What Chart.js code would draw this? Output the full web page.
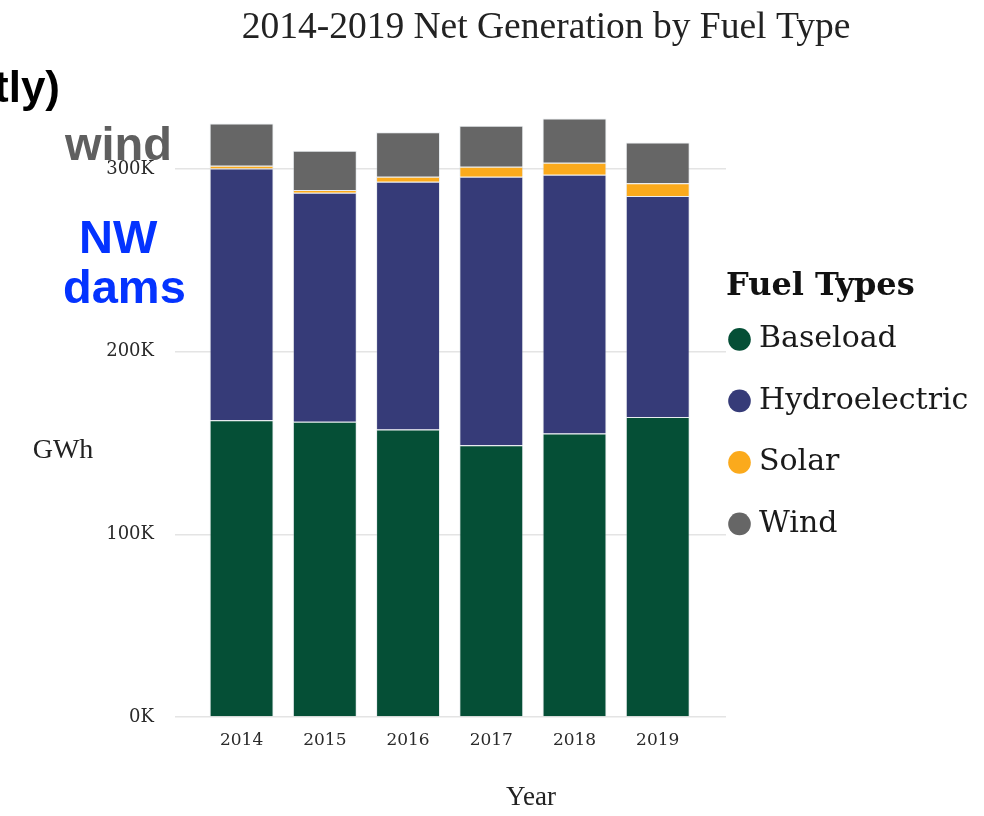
<!DOCTYPE html>
<html>
<head>
<meta charset="utf-8">
<script src="https://cdn.jsdelivr.net/npm/chart.js@4.4.1/dist/chart.umd.min.js"></script>
<style>
  html, body { margin: 0; padding: 0; background: #fff; }
</style>
</head>
<body>
<canvas id="genChart" width="984" height="816"></canvas>
<script>
// GWh by fuel type
const years = [2014, 2015, 2016, 2017, 2018, 2019];
const baseload = [162500, 161700, 157400, 148800, 155200, 164300];
const hydro = [137800, 125300, 135600, 147000, 141700, 120900];
const solar = [1500, 1500, 2800, 5400, 6500, 7000];
const wind = [23200, 21500, 24400, 22500, 24300, 22400];
const yTicks = [0, 100000, 200000, 300000];

const serif = '"DejaVu Serif", serif';
const times = '"Liberation Serif", serif';
const sans = '"Liberation Sans", Arial, sans-serif';

// title, axis labels and the slide annotations on top of the chart
const slideText = {
  id: 'slideText',
  afterDraw(chart) {
    const c = chart.ctx;
    c.save();
    c.textBaseline = 'alphabetic';
    c.fillStyle = '#222';
    c.textAlign = 'center';
    c.font = '37.5px ' + times;
    c.fillText('2014-2019 Net Generation by Fuel Type', 546, 38);
    c.font = '28px ' + times;
    c.fillText('GWh', 63, 458);
    c.font = '27px ' + times;
    c.fillText('Year', 531, 805);

    c.fillStyle = '#000';
    c.textAlign = 'right';
    c.font = 'bold 44px ' + sans;
    c.fillText('tly)', 60, 102);
    c.textAlign = 'left';
    c.fillStyle = '#5f5f5f';
    c.font = 'bold 47px ' + sans;
    c.fillText('wind', 65, 160);
    c.fillStyle = '#0433ff';
    c.font = 'bold 47px ' + sans;
    c.fillText('NW', 79, 253);
    c.fillText('dams', 63, 303);
    c.restore();
  }
};

new Chart(document.getElementById('genChart'), {
  type: 'bar',
  data: {
    labels: years,
    datasets: [
      { label: 'Baseload', data: baseload, backgroundColor: '#054f36' },
      { label: 'Hydroelectric', data: hydro, backgroundColor: '#363b78' },
      { label: 'Solar', data: solar, backgroundColor: '#fbaa1c' },
      { label: 'Wind', data: wind, backgroundColor: '#666666' }
    ]
  },
  plugins: [slideText],
  options: {
    responsive: false,
    animation: false,
    datasets: {
      bar: {
        barPercentage: 0.96,
        categoryPercentage: 0.8,
        borderWidth: 1,
        borderColor: 'rgba(190,200,210,0.35)'
      }
    },
    layout: { padding: { top: 96, right: 16, bottom: 0, left: 0 } },
    plugins: {
      tooltip: { enabled: false },
      legend: {
        position: 'right',
        align: 'start',
        title: {
          display: true,
          text: 'Fuel Types',
          position: 'start',
          color: '#111',
          font: { family: serif, size: 32, weight: 'bold' },
          padding: { top: 175, bottom: 6 }
        },
        labels: {
          usePointStyle: true,
          pointStyle: 'circle',
          boxWidth: 9,
          boxHeight: 16,
          padding: 9,
          color: '#1a1a1a',
          font: { family: serif, size: 30, lineHeight: 1.75 },
          generateLabels(chart) {
            const items = Chart.defaults.plugins.legend.labels.generateLabels(chart);
            return items.map(it => Object.assign(it, { text: [it.text], lineWidth: 0 }));
          }
        }
      }
    },
    scales: {
      x: {
        type: 'linear',
        stacked: true,
        offset: false,
        min: 2013.2,
        max: 2019.82,
        afterBuildTicks(axis) { axis.ticks = years.map(v => ({ value: v })); },
        afterFit(axis) { axis.height = 99; },
        grid: { display: false, drawTicks: false },
        border: { display: false },
        ticks: {
          padding: 13,
          color: '#2a2a2a',
          font: { family: serif, size: 17 },
          callback: v => String(v)
        }
      },
      y: {
        stacked: true,
        min: 0,
        max: 340000,
        afterBuildTicks(axis) { axis.ticks = yTicks.map(v => ({ value: v })); },
        afterFit(axis) { axis.width = 175; },
        grid: { color: '#e4e4e4', lineWidth: 1.5, drawTicks: false },
        border: { display: false },
        ticks: {
          padding: 21,
          color: '#2a2a2a',
          font: { family: serif, size: 18 },
          callback: v => (v / 1000) + 'K'
        }
      }
    }
  }
});
</script>
</body>
</html>
